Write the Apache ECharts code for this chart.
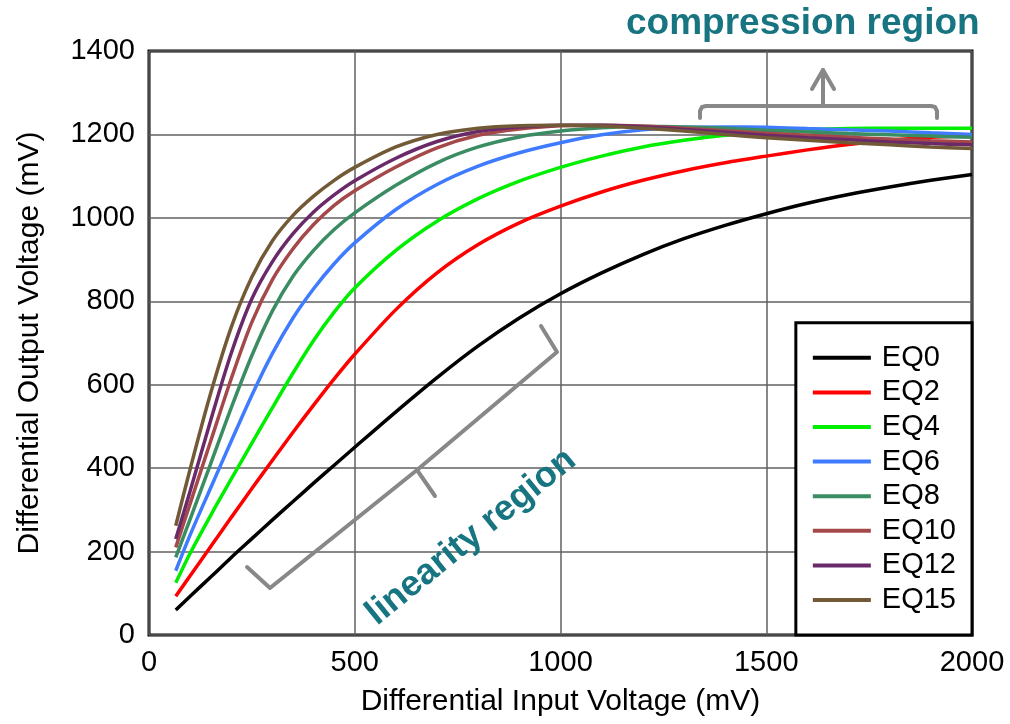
<!DOCTYPE html>
<html>
<head>
<meta charset="utf-8">
<script src="https://cdn.jsdelivr.net/npm/echarts@6/dist/echarts.min.js"></script>
<style>
html,body{margin:0;padding:0;background:#fff;}
#chart{width:1010px;height:724px;}
</style>
</head>
<body>
<div id="chart"></div>
<script>
var inputMv = [65, 100, 150, 200, 250, 300, 350, 400, 450, 500, 600, 700, 800, 900, 1000, 1100, 1200, 1300, 1400, 1500, 1600, 1700, 1800, 1900, 2000];

var eq0  = [60, 93, 139, 186, 231, 276, 320, 364, 407, 450, 535, 617, 693, 760, 818, 868, 912, 950, 982, 1010, 1035, 1056, 1074, 1090, 1104];
var eq2  = [93, 142, 212, 282, 351, 419, 486, 551, 614, 673, 780, 868, 936, 988, 1028, 1062, 1090, 1113, 1132, 1148, 1163, 1176, 1186, 1193, 1198];
var eq4  = [125, 196, 287, 374, 460, 545, 628, 706, 774, 832, 922, 992, 1046, 1088, 1121, 1148, 1170, 1186, 1198, 1206, 1211, 1214, 1215, 1215, 1215];
var eq6  = [154, 240, 353, 465, 575, 675, 760, 830, 890, 940, 1020, 1080, 1124, 1156, 1180, 1199, 1211, 1217, 1218, 1217, 1214, 1211, 1208, 1204, 1200];
var eq8  = [186, 278, 411, 545, 670, 777, 860, 922, 972, 1012, 1078, 1132, 1170, 1194, 1208, 1216, 1219, 1218, 1215, 1210, 1206, 1202, 1199, 1196, 1193];
var eq10 = [210, 315, 465, 615, 750, 852, 926, 984, 1030, 1065, 1122, 1168, 1198, 1213, 1221, 1222, 1220, 1215, 1209, 1203, 1198, 1193, 1189, 1185, 1182];
var eq12 = [230, 345, 515, 676, 806, 895, 962, 1014, 1055, 1089, 1143, 1183, 1207, 1218, 1222, 1222, 1218, 1212, 1205, 1198, 1192, 1187, 1182, 1178, 1175];
var eq15 = [262, 398, 580, 738, 858, 945, 1006, 1052, 1090, 1121, 1170, 1200, 1215, 1221, 1222, 1220, 1215, 1208, 1200, 1192, 1186, 1180, 1175, 1170, 1166];

var seriesNames = ['EQ0', 'EQ2', 'EQ4', 'EQ6', 'EQ8', 'EQ10', 'EQ12', 'EQ15'];
var seriesValues = [eq0, eq2, eq4, eq6, eq8, eq10, eq12, eq15];
var seriesColors = ['#000000', '#ff0000', '#00ee00', '#3f7bff', '#3a8c62', '#a4484a', '#6a2a6a', '#725a36'];

var xTicks = [0, 500, 1000, 1500, 2000];
var yTicks = [0, 200, 400, 600, 800, 1000, 1200, 1400];

var FONT = 'Liberation Sans, Arial, Helvetica, sans-serif';
var TEAL = '#177582';
var GRAYB = '#888888';

var chart = echarts.init(document.getElementById('chart'), null, {renderer: 'canvas'});

var series = seriesNames.map(function (name, i) {
  return {
    name: name,
    type: 'line',
    data: inputMv.map(function (x, k) { return [x, seriesValues[i][k]]; }),
    symbol: 'none',
    smooth: 0.3,
    lineStyle: {color: seriesColors[i], width: 3.5},
    itemStyle: {color: seriesColors[i]},
    z: 3 + i,
    animation: false
  };
});

function bracketStyle() {
  return {fill: null, stroke: GRAYB, lineWidth: 4, lineCap: 'round', lineJoin: 'round'};
}

function plain(v) { return String(v); }

var option = {
  backgroundColor: '#ffffff',
  animation: false,
  textStyle: {fontFamily: FONT},
  grid: {
    left: 149, right: 38, top: 51, bottom: 89,
    show: true, borderColor: '#000', borderWidth: 3, backgroundColor: 'transparent'
  },
  xAxis: {
    type: 'value', min: xTicks[0], max: xTicks[xTicks.length - 1], interval: 500,
    name: 'Differential Input Voltage (mV)', nameLocation: 'middle', nameGap: 52,
    nameTextStyle: {fontSize: 30, color: '#000', fontFamily: FONT},
    axisLine: {show: false}, axisTick: {show: false},
    axisLabel: {fontSize: 29, color: '#000', margin: 13, fontFamily: FONT, formatter: plain},
    splitLine: {show: true, lineStyle: {color: '#606060', width: 1.5}}
  },
  yAxis: {
    type: 'value', min: yTicks[0], max: yTicks[yTicks.length - 1], interval: 200,
    name: 'Differential Output Voltage (mV)', nameLocation: 'middle', nameGap: 104,
    nameTextStyle: {fontSize: 30, color: '#000', fontFamily: FONT},
    axisLine: {show: false}, axisTick: {show: false},
    axisLabel: {fontSize: 29, color: '#000', margin: 14, fontFamily: FONT, formatter: plain},
    splitLine: {show: true, lineStyle: {color: '#606060', width: 1.5}}
  },
  legend: {
    data: seriesNames,
    orient: 'vertical',
    right: 38, bottom: 89,
    backgroundColor: '#fff',
    borderColor: '#000', borderWidth: 3, borderRadius: 0,
    padding: [20, 16, 20, 17],
    icon: 'rect',
    itemWidth: 58, itemHeight: 4, itemGap: 4.6,
    textStyle: {fontSize: 29, color: '#000', fontFamily: FONT, lineHeight: 30, padding: [0, 0, 0, 6]},
    selectedMode: false,
    z: 20
  },
  graphic: [
    {
      type: 'text', z: 30,
      x: 626, y: 5,
      style: {text: 'compression region', fill: TEAL, font: 'bold 37px ' + FONT}
    },
    {
      type: 'polyline', z: 30,
      shape: {points: [[700, 118], [700, 111], [702, 107], [706, 106], [931, 106], [935, 107], [937, 111], [937, 118]]},
      style: bracketStyle()
    },
    {
      type: 'polyline', z: 30,
      shape: {points: [[823, 106], [823, 70]]},
      style: bracketStyle()
    },
    {
      type: 'polyline', z: 30,
      shape: {points: [[812, 89], [823, 70], [834, 89]]},
      style: bracketStyle()
    },
    {
      type: 'polyline', z: 30,
      shape: {points: [[247, 567], [270, 588], [417, 470], [557, 352], [541, 326]]},
      style: bracketStyle()
    },
    {
      type: 'polyline', z: 30,
      shape: {points: [[417, 470], [435, 496]]},
      style: bracketStyle()
    },
    {
      type: 'text', z: 30,
      x: 471, y: 537,
      rotation: 39 * Math.PI / 180,
      style: {text: 'linearity region', fill: TEAL, font: 'bold 36px ' + FONT, align: 'center', verticalAlign: 'middle'}
    }
  ],
  series: series
};

chart.setOption(option);
</script>
</body>
</html>
